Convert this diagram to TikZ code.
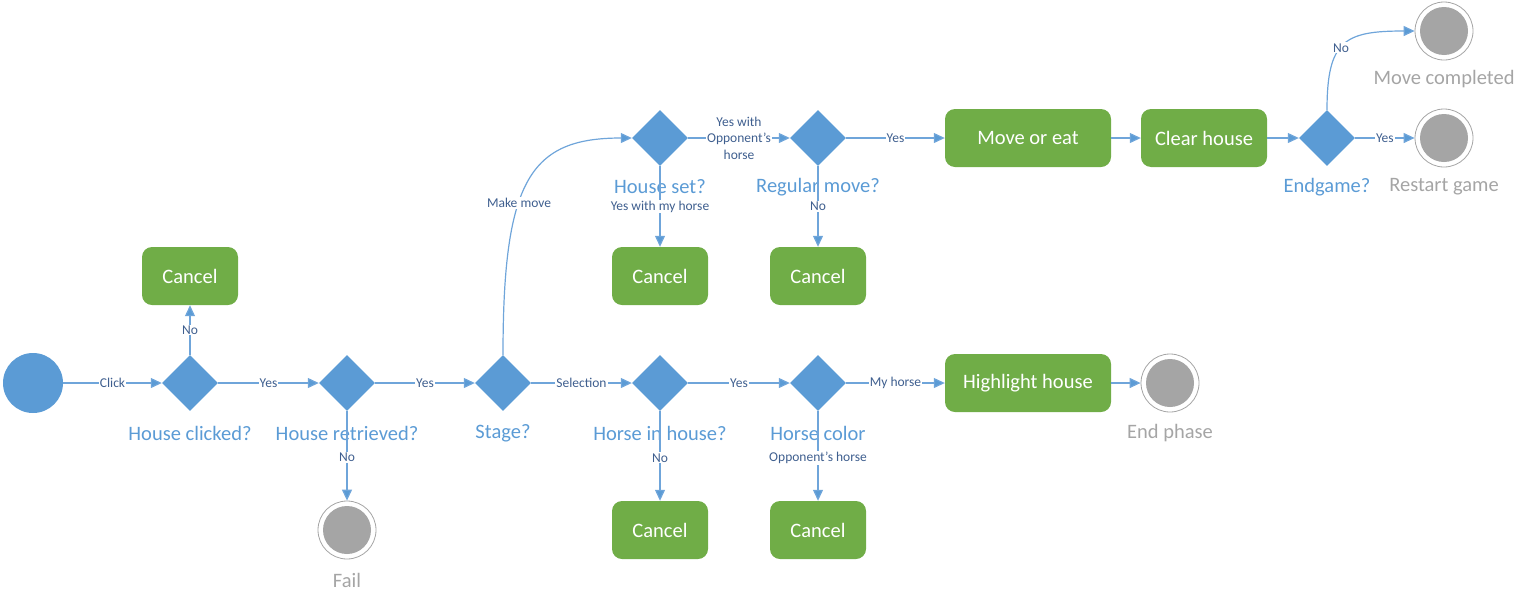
\documentclass[tikz,border=0pt]{standalone}
\usepackage{fontspec}
\setmainfont{Carlito}
\usetikzlibrary{shapes.geometric,arrows.meta}
\definecolor{blu}{HTML}{5B9BD5}
\definecolor{lnc}{HTML}{6FA5DA}
\definecolor{grn}{HTML}{70AD47}
\definecolor{gry}{HTML}{A5A5A5}
\definecolor{lbc}{HTML}{3F5F8F}
\newcommand\bigfnt{\fontsize{20.5}{23}\selectfont}
\newcommand\smlfnt{\fontsize{13.5}{16.5}\selectfont}
\begin{document}
\begin{tikzpicture}[x=1pt,y=-1pt,
  dec/.style={diamond, fill=blu, draw=none, minimum width=56pt, minimum height=56pt, inner sep=0pt},
  act/.style={rectangle, rounded corners=10pt, fill=grn, text=white, font=\bigfnt, minimum height=58pt, minimum width=96pt, inner sep=0pt},
  term/.style={circle, draw=gry, fill=white, minimum size=58pt, inner sep=0pt, line width=0.8pt,
    path picture={\fill[gry] (path picture bounding box.center) circle (24pt);}},
  startn/.style={circle, fill=blu, minimum size=60pt, inner sep=0pt},
  lbl/.style={font=\smlfnt, text=lbc, fill=white, inner sep=1pt, align=center},
  dcap/.style={font=\bigfnt, text=blu, inner sep=0pt},
  tcap/.style={font=\bigfnt, text=gry, inner sep=0pt},
  edge/.style={draw=lnc, line width=1.2pt, -{Triangle[length=11pt,width=10pt,fill=blu]}}
]
\useasboundingbox (0,0) rectangle (1530,603);
% bottom row
\node[startn] (s) at (33,383) {};
\node[dec] (d1) at (190,383) {};
\node[dcap] (d1c) at (190,433) {House clicked?};
\node[act] (c1) at (190,276) {Cancel};
\node[dec] (d2) at (347,383) {};
\node[dcap] (d2c) at (347,433) {House retrieved?};
\node[term] (fail) at (347,530) {};
\node[tcap] (failc) at (347,580) {Fail};
\node[dec] (d3) at (503,383) {};
\node[dcap] (d3c) at (503,433) {Stage?};
\node[dec] (d4) at (660,383) {};
\node[dcap] (d4c) at (660,433) {Horse in house?};
\node[act] (c4) at (660,530) {Cancel};
\node[dec] (d5) at (818,383) {};
\node[dcap] (d5c) at (818,433) {Horse color};
\node[act] (c5) at (818,530) {Cancel};
\node[act, minimum width=166pt] (hl) at (1028,383) {Highlight house};
\node[term] (ep) at (1170,383) {};
\node[tcap] (epc) at (1170,433) {End phase};
% top row
\node[dec] (d6) at (660,138) {};
\node[dcap] (d6c) at (660,187) {House set?};
\node[act] (c6) at (660,276) {Cancel};
\node[dec] (d7) at (818,138) {};
\node[dcap] (d7c) at (818,187) {Regular move?};
\node[act] (c7) at (818,276) {Cancel};
\node[act, minimum width=166pt] (me) at (1028,138) {Move or eat};
\node[act, minimum width=126pt] (ch) at (1204,138) {Clear house};
\node[dec] (d8) at (1327,138) {};
\node[dcap] (d8c) at (1327,187) {Endgame?};
\node[term] (rg) at (1444,138) {};
\node[tcap] (rgc) at (1444,187) {Restart game};
\node[term] (mc) at (1444,31) {};
\node[tcap] (mcc) at (1444,79) {Move completed};
% edges
\draw[edge] (s) -- node[lbl]{Click} (d1);
\draw[edge] (d1) -- node[lbl]{Yes} (d2);
\draw[edge] (d2) -- node[lbl]{Yes} (d3);
\draw[edge] (d3) -- node[lbl]{Selection} (d4);
\draw[edge] (d4) -- node[lbl]{Yes} (d5);
\draw[edge] (d5) -- node[lbl]{My horse} (hl);
\draw[edge] (hl) -- (ep);
\draw[edge] (d1) -- node[lbl]{No} (c1);
\draw[edge] (d2) -- node[lbl,pos=0.52]{No} (fail);
\draw[edge] (d4) -- node[lbl,pos=0.52]{No} (c4);
\draw[edge] (d5) -- node[lbl,pos=0.52]{Opponent’s horse} (c5);
\draw[edge] (d3.north) .. controls (503,180) and (530,138) .. node[lbl,pos=0.4]{Make move} (d6.west);
\draw[edge] (d6) -- node[lbl]{Yes with\\Opponent’s\\horse} (d7);
\draw[edge] (d6) -- node[lbl]{Yes with my horse} (c6);
\draw[edge] (d7) -- node[lbl]{No} (c7);
\draw[edge] (d7) -- node[lbl]{Yes} (me);
\draw[edge] (me) -- (ch);
\draw[edge] (ch) -- (d8);
\draw[edge] (d8) -- node[lbl]{Yes} (rg);
\draw[edge] (d8.north) .. controls (1327,40) and (1345,31) .. node[lbl,pos=0.45]{No} (mc.west);
\end{tikzpicture}
\end{document}
